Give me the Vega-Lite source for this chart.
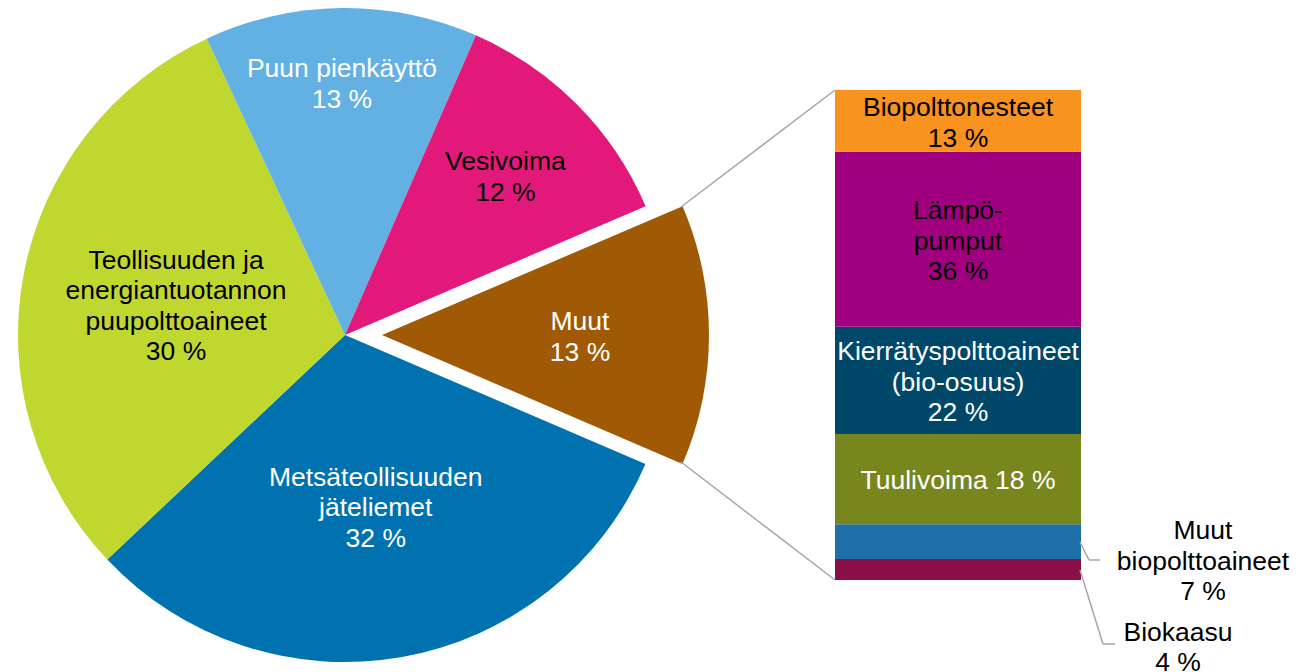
{
  "$schema": "https://vega.github.io/schema/vega-lite/v6.json",
  "width": 1297,
  "height": 672,
  "padding": 0,
  "autosize": {"type": "none"},
  "background": "white",
  "config": {
    "view": {"stroke": null},
    "text": {"font": "Liberation Sans", "fontSize": 26.5, "lineBreak": "\n", "lineHeight": 30.5, "baseline": "middle"}
  },
  "datasets": {
    "pie": [
      {"name": "Muut", "label": "Muut\n13 %", "value": 12.9, "ord": 1},
      {"name": "Metsäteollisuuden jäteliemet", "label": "Metsäteollisuuden\njäteliemet\n32 %", "value": 31.5, "ord": 2},
      {"name": "Teollisuuden ja energiantuotannon puupolttoaineet", "label": "Teollisuuden ja\nenergiantuotannon\npuupolttoaineet\n30 %", "value": 30.1, "ord": 3},
      {"name": "Puun pienkäyttö", "label": "Puun pienkäyttö\n13 %", "value": 13.5, "ord": 4},
      {"name": "Vesivoima", "label": "Vesivoima\n12 %", "value": 12.0, "ord": 5}
    ],
    "bar": [
      {"name": "Biokaasu", "label": "Biokaasu\n4 %", "value": 4.3, "ord": 1},
      {"name": "Muut biopolttoaineet", "label": "Muut\nbiopolttoaineet\n7 %", "value": 7.1, "ord": 2},
      {"name": "Tuulivoima", "label": "Tuulivoima 18 %", "value": 18.4, "ord": 3},
      {"name": "Kierrätyspolttoaineet (bio-osuus)", "label": "Kierrätyspolttoaineet\n(bio-osuus)\n22 %", "value": 21.9, "ord": 4},
      {"name": "Lämpöpumput", "label": "Lämpö-\npumput\n36 %", "value": 35.7, "ord": 5},
      {"name": "Biopolttonesteet", "label": "Biopolttonesteet\n13 %", "value": 12.6, "ord": 6}
    ]
  },
  "layer": [
    {
      "data": {"name": "pie"},
      "mark": {"type": "arc", "x": 345, "y": 335, "outerRadius": 327},
      "encoding": {
        "theta": {"field": "value", "type": "quantitative", "stack": true, "scale": {"range": [1.16588, 7.44907]}},
        "order": {"field": "ord", "type": "quantitative"},
        "color": {
          "field": "name", "type": "nominal", "legend": null,
          "scale": {
            "domain": ["Muut", "Metsäteollisuuden jäteliemet", "Teollisuuden ja energiantuotannon puupolttoaineet", "Puun pienkäyttö", "Vesivoima", "Biokaasu", "Muut biopolttoaineet", "Tuulivoima", "Kierrätyspolttoaineet (bio-osuus)", "Lämpöpumput", "Biopolttonesteet"],
            "range": ["#A05A05", "#0072B0", "#C0D72F", "#63B0E3", "#E3187B", "#8A0F46", "#1F6FA8", "#78861E", "#00486A", "#A0007F", "#F7931E"]
          }
        },
        "opacity": {"condition": {"test": "datum.name === 'Muut'", "value": 0}, "value": 1}
      }
    },
    {
      "data": {"name": "pie"},
      "mark": {"type": "arc", "x": 382, "y": 335, "outerRadius": 327},
      "encoding": {
        "theta": {"field": "value", "type": "quantitative", "stack": true},
        "order": {"field": "ord", "type": "quantitative"},
        "color": {"field": "name", "type": "nominal", "legend": null},
        "opacity": {"condition": {"test": "datum.name === 'Muut'", "value": 1}, "value": 0}
      }
    },
    {
      "data": {"name": "pie"},
      "mark": {"type": "text", "x": 345, "y": 335, "radius": 252, "dy": -14, "color": "white"},
      "encoding": {
        "theta": {"field": "value", "type": "quantitative", "stack": true},
        "order": {"field": "ord", "type": "quantitative"},
        "text": {"condition": {"test": "datum.name === 'Puun pienkäyttö'", "field": "label"}, "value": ""}
      }
    },
    {
      "data": {"name": "pie"},
      "mark": {"type": "text", "x": 345, "y": 335, "radius": 226, "dy": -13.5, "color": "black"},
      "encoding": {
        "theta": {"field": "value", "type": "quantitative", "stack": true},
        "order": {"field": "ord", "type": "quantitative"},
        "text": {"condition": {"test": "datum.name === 'Vesivoima'", "field": "label"}, "value": ""}
      }
    },
    {
      "data": {"name": "pie"},
      "mark": {"type": "text", "x": 345, "y": 335, "radius": 172, "dy": -42, "color": "black"},
      "encoding": {
        "theta": {"field": "value", "type": "quantitative", "stack": true},
        "order": {"field": "ord", "type": "quantitative"},
        "text": {"condition": {"test": "datum.name === 'Teollisuuden ja energiantuotannon puupolttoaineet'", "field": "label"}, "value": ""}
      }
    },
    {
      "data": {"name": "pie"},
      "mark": {"type": "text", "x": 345, "y": 335, "radius": 176, "dy": -30.5, "color": "white"},
      "encoding": {
        "theta": {"field": "value", "type": "quantitative", "stack": true},
        "order": {"field": "ord", "type": "quantitative"},
        "text": {"condition": {"test": "datum.name === 'Metsäteollisuuden jäteliemet'", "field": "label"}, "value": ""}
      }
    },
    {
      "data": {"name": "pie"},
      "mark": {"type": "text", "x": 382, "y": 335, "radius": 198, "dy": -13, "color": "white"},
      "encoding": {
        "theta": {"field": "value", "type": "quantitative", "stack": true},
        "order": {"field": "ord", "type": "quantitative"},
        "text": {"condition": {"test": "datum.name === 'Muut'", "field": "label"}, "value": ""}
      }
    },
    {
      "data": {"name": "bar"},
      "mark": {"type": "bar", "orient": "vertical"},
      "encoding": {
        "x": {"value": 835},
        "x2": {"value": 1081},
        "y": {"field": "value", "type": "quantitative", "stack": true, "scale": {"domain": [0, 100], "range": [580, 90], "nice": false, "zero": true}, "axis": null},
        "order": {"field": "ord", "type": "quantitative"},
        "color": {"field": "name", "type": "nominal", "legend": null}
      }
    },
    {
      "data": {"name": "bar"},
      "mark": {"type": "text", "x": 958, "dy": -12.5, "color": "black"},
      "encoding": {
        "y": {"field": "value", "type": "quantitative", "stack": true, "bandPosition": 0.5},
        "order": {"field": "ord", "type": "quantitative"},
        "text": {"condition": {"test": "datum.ord === 6", "field": "label"}, "value": ""}
      }
    },
    {
      "data": {"name": "bar"},
      "mark": {"type": "text", "x": 958, "dy": -28},
      "encoding": {
        "y": {"field": "value", "type": "quantitative", "stack": true, "bandPosition": 0.5},
        "order": {"field": "ord", "type": "quantitative"},
        "text": {"condition": {"test": "datum.ord === 4 || datum.ord === 5", "field": "label"}, "value": ""},
        "fill": {"condition": {"test": "datum.ord === 4", "value": "white"}, "value": "black"}
      }
    },
    {
      "data": {"name": "bar"},
      "mark": {"type": "text", "x": 958, "dy": 2, "color": "white"},
      "encoding": {
        "y": {"field": "value", "type": "quantitative", "stack": true, "bandPosition": 0.5},
        "order": {"field": "ord", "type": "quantitative"},
        "text": {"condition": {"test": "datum.ord === 3", "field": "label"}, "value": ""}
      }
    },
    {
      "data": {"name": "bar"},
      "mark": {"type": "text", "x": 1203, "dy": -10.5, "color": "black"},
      "encoding": {
        "y": {"field": "value", "type": "quantitative", "stack": true, "bandPosition": 0.5},
        "order": {"field": "ord", "type": "quantitative"},
        "text": {"condition": {"test": "datum.ord === 2", "field": "label"}, "value": ""}
      }
    },
    {
      "data": {"name": "bar"},
      "mark": {"type": "text", "x": 1178, "dy": 63.5, "color": "black"},
      "encoding": {
        "y": {"field": "value", "type": "quantitative", "stack": true, "bandPosition": 0.5},
        "order": {"field": "ord", "type": "quantitative"},
        "text": {"condition": {"test": "datum.ord === 1", "field": "label"}, "value": ""}
      }
    },
    {"data": {"values": [{"k": 1}]}, "mark": {"type": "rule", "color": "#A6A6A6", "strokeWidth": 1.5}, "encoding": {"x": {"value": 681}, "y": {"value": 207}, "x2": {"value": 835}, "y2": {"value": 90}}},
    {"data": {"values": [{"k": 1}]}, "mark": {"type": "rule", "color": "#A6A6A6", "strokeWidth": 1.5}, "encoding": {"x": {"value": 681}, "y": {"value": 462}, "x2": {"value": 835}, "y2": {"value": 580}}},
    {"data": {"values": [{"k": 1}]}, "mark": {"type": "rule", "color": "#A6A6A6", "strokeWidth": 1.5}, "encoding": {"x": {"value": 1080}, "y": {"value": 542}, "x2": {"value": 1089}, "y2": {"value": 560}}},
    {"data": {"values": [{"k": 1}]}, "mark": {"type": "rule", "color": "#A6A6A6", "strokeWidth": 1.5}, "encoding": {"x": {"value": 1089}, "y": {"value": 560}, "x2": {"value": 1100}, "y2": {"value": 560}}},
    {"data": {"values": [{"k": 1}]}, "mark": {"type": "rule", "color": "#A6A6A6", "strokeWidth": 1.5}, "encoding": {"x": {"value": 1080}, "y": {"value": 570}, "x2": {"value": 1103}, "y2": {"value": 644}}},
    {"data": {"values": [{"k": 1}]}, "mark": {"type": "rule", "color": "#A6A6A6", "strokeWidth": 1.5}, "encoding": {"x": {"value": 1103}, "y": {"value": 644}, "x2": {"value": 1115}, "y2": {"value": 644}}}
  ]
}
